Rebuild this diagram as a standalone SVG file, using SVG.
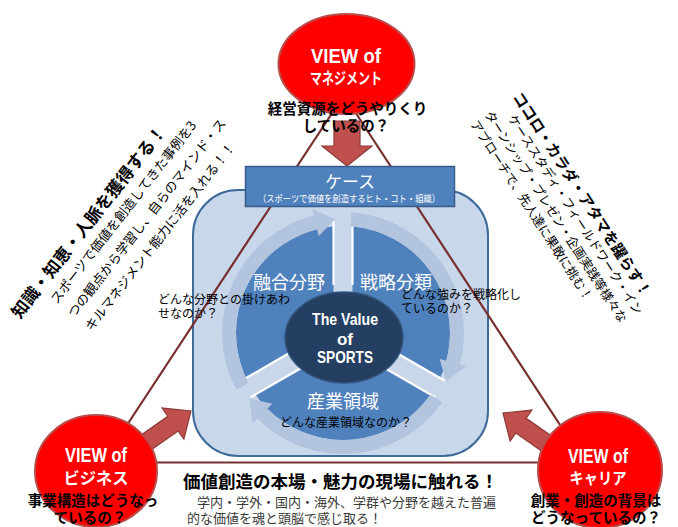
<svg xmlns="http://www.w3.org/2000/svg" width="678" height="527" viewBox="0 0 678 527">
<style>
.jp{font-family:"Noto Sans CJK JP","Noto Sans",sans-serif}
.b{font-weight:700}
.w{fill:#ffffff}
.k{fill:#000000}
.g{fill:#3a3a3a}
.en{font-family:"Liberation Sans Narrow","Liberation Sans",Arial,sans-serif;font-weight:700;fill:#ffffff}
.red{fill:#ff0000;stroke:#b84c4a;stroke-width:2}
.blk{fill:#c0504d;stroke:#8b3a38;stroke-width:1.2}
.tri{stroke:#772f2f;stroke-width:2.2;fill:none}
.band{fill:#b3c4df}
.gap{fill:#c9d7eb}
.wl{stroke:#ffffff;stroke-width:2.2}
</style>
<rect width="678" height="527" fill="#ffffff"/>

<g id="panel">
<rect x="193" y="190" width="295" height="266" rx="45" ry="45" fill="#c9d7eb" stroke="#3f6b9a" stroke-width="2"/>
</g>

<g id="connectors">
<line class="tri" x1="344" y1="95" x2="102" y2="463"/>
<line class="tri" x1="344" y1="95" x2="585" y2="463"/>
<line class="tri" x1="102" y1="462.5" x2="595" y2="462.5" stroke-width="2.8"/>
<polygon class="blk" points="334,121 360,121 360,146 372,146 347,166 322,146 334,146"/>
<polygon class="blk" transform="translate(191,411) rotate(-35)" points="-62,-9 -22,-9 -22,-19 0,0 -22,19 -22,9 -62,9"/>
<polygon class="blk" transform="translate(503,413) rotate(-145)" points="-62,-9 -22,-9 -22,-19 0,0 -22,19 -22,9 -62,9"/>
</g>

<g id="case">
<rect x="245.5" y="166.5" width="209" height="40" fill="#4f81bd" stroke="#385d8a" stroke-width="1.5"/>
<text class="jp w" x="350" y="188" font-size="17" text-anchor="middle">ケース</text>
<text class="jp w" x="349" y="201.5" font-size="9.5" text-anchor="middle" textLength="182" lengthAdjust="spacingAndGlyphs">（スポーツで価値を創造するヒト・コト・組織）</text>
</g>

<g id="cycle">
<circle cx="343" cy="333" r="107" fill="#4f81bd"/>
<polygon class="gap" points="333.5,333 333.5,221 352.5,221 352.5,333"/>
<polygon class="gap" points="347.75,324.8 444.75,380.8 435.25,397.2 338.25,341.2"/>
<polygon class="gap" points="338.25,324.8 241.25,380.8 250.75,397.2 347.75,341.2"/>
<line class="wl" x1="333.5" y1="221" x2="333.5" y2="285"/>
<line class="wl" x1="352.5" y1="226" x2="352.5" y2="285"/>
<line class="wl" x1="391.05" y1="349.8" x2="444.75" y2="380.8"/>
<line class="wl" x1="381.55" y1="366.2" x2="435.25" y2="397.2"/>
<line class="wl" x1="294.95" y1="349.8" x2="241.25" y2="380.8"/>
<line class="wl" x1="304.45" y1="366.2" x2="250.75" y2="397.2"/>
<path class="band" d="M236.2,389.8 A121,121 0 0 1 313.7,215.6 L312.0,208.8 L335.0,219.3 L318.8,236.0 L317.1,229.2 A107,107 0 0 0 248.5,383.2 Z"/>
<path class="band" d="M351.4,212.3 A121,121 0 0 1 459.9,364.3 L466.6,366.1 L446.3,381.2 L439.6,358.9 L446.4,360.7 A107,107 0 0 0 350.5,226.3 Z"/>
<path class="band" d="M442.1,402.4 A121,121 0 0 1 257.4,418.6 L252.5,423.5 L249.6,398.4 L272.3,403.7 L267.3,408.7 A107,107 0 0 0 430.7,394.4 Z"/>
<text class="jp w" x="289" y="289" font-size="18" text-anchor="middle">融合分野</text>
<text class="jp w" x="396" y="289" font-size="18" text-anchor="middle">戦略分類</text>
<text class="jp w" x="343" y="408" font-size="18" text-anchor="middle">産業領域</text>
<text class="jp k" x="346" y="427" font-size="12" text-anchor="middle">どんな産業領域なのか？</text>
<text class="jp k" x="158" y="304" font-size="12">どんな分野との掛けあわ</text>
<text class="jp k" x="158" y="318" font-size="12">せなのか？</text>
<text class="jp k" x="401" y="299" font-size="12">どんな強みを戦略化し</text>
<text class="jp k" x="401" y="313" font-size="12">ているのか？</text>
</g>

<g id="center">
<ellipse cx="344" cy="337.5" rx="59" ry="45.5" fill="#243f61" stroke="#35577f" stroke-width="1.5"/>
<text class="en" x="345" y="325" font-size="17" text-anchor="middle" textLength="66" lengthAdjust="spacingAndGlyphs">The Value</text>
<text class="en" x="345" y="345" font-size="17" text-anchor="middle">of</text>
<text class="en" x="345" y="363" font-size="17" text-anchor="middle" textLength="56" lengthAdjust="spacingAndGlyphs">SPORTS</text>
</g>

<g id="view-management">
<ellipse class="red" cx="346.5" cy="64" rx="68" ry="50"/>
<text class="en" x="346" y="63" font-size="21" text-anchor="middle" textLength="70" lengthAdjust="spacingAndGlyphs">VIEW of</text>
<text class="jp b w" x="346" y="84" font-size="16" text-anchor="middle" textLength="72" lengthAdjust="spacingAndGlyphs">マネジメント</text>
<text class="jp b k" x="347.5" y="114" font-size="14.5" text-anchor="middle">経営資源をどうやりくり</text>
<text class="jp b k" x="346" y="131" font-size="14.5" text-anchor="middle">しているの？</text>
</g>

<g id="view-business">
<ellipse class="red" cx="96" cy="471" rx="61" ry="56"/>
<text class="en" x="96" y="462" font-size="20" text-anchor="middle" textLength="62" lengthAdjust="spacingAndGlyphs">VIEW of</text>
<text class="jp b w" x="96" y="484" font-size="16" text-anchor="middle" textLength="65" lengthAdjust="spacingAndGlyphs">ビジネス</text>
<text class="jp b k" x="93" y="506" font-size="14.5" text-anchor="middle">事業構造はどうなっ</text>
<text class="jp b k" x="90" y="523" font-size="14.5" text-anchor="middle">ているの？</text>
</g>

<g id="view-career">
<ellipse class="red" cx="600" cy="470" rx="62" ry="58"/>
<text class="en" x="598" y="463" font-size="20" text-anchor="middle" textLength="60" lengthAdjust="spacingAndGlyphs">VIEW of</text>
<text class="jp b w" x="598" y="484" font-size="16" text-anchor="middle" textLength="57" lengthAdjust="spacingAndGlyphs">キャリア</text>
<text class="jp b k" x="596" y="506" font-size="14.5" text-anchor="middle">創業・創造の背景は</text>
<text class="jp b k" x="596" y="523" font-size="14.5" text-anchor="middle">どうなっているの？</text>
</g>

<g id="bottom-text">
<text class="jp b k" x="183" y="488" font-size="17.5">価値創造の本場・魅力の現場に触れる！</text>
<text class="jp g" x="197" y="507" font-size="13">学内・学外・国内・海外、学群や分野を越えた普遍</text>
<text class="jp g" x="187" y="523" font-size="13">的な価値を魂と頭脳で感じ取る！</text>
</g>

<g id="left-text" transform="rotate(-52)">
<text class="jp b k" x="-239.4" y="212.5" font-size="17">知識・知恵・人脈を獲得する！</text>
<text class="jp k" x="-205" y="232.5" font-size="13">スポーツで価値を創造してきた事例を3</text>
<text class="jp k" x="-205" y="254.5" font-size="13">つの観点から学習し、自らのマインド・ス</text>
<text class="jp k" x="-205" y="276.5" font-size="13">キルマネジメント能力に活を入れる！！</text>
</g>

<g id="right-text" transform="rotate(57)">
<text class="jp b k" x="360.2" y="-377" font-size="15">ココロ・カラダ・アタマを躍らす！</text>
<text class="jp k" x="375.6" y="-361.2" font-size="12.5">ケーススタディ・フィールドワーク・イン</text>
<text class="jp k" x="359.8" y="-343.7" font-size="12.5">ターンシップ・プレゼン・企画実践等様々な</text>
<text class="jp k" x="360" y="-326.7" font-size="12.5">アプローチで、先人達に果敢に挑む！</text>
</g>
</svg>
